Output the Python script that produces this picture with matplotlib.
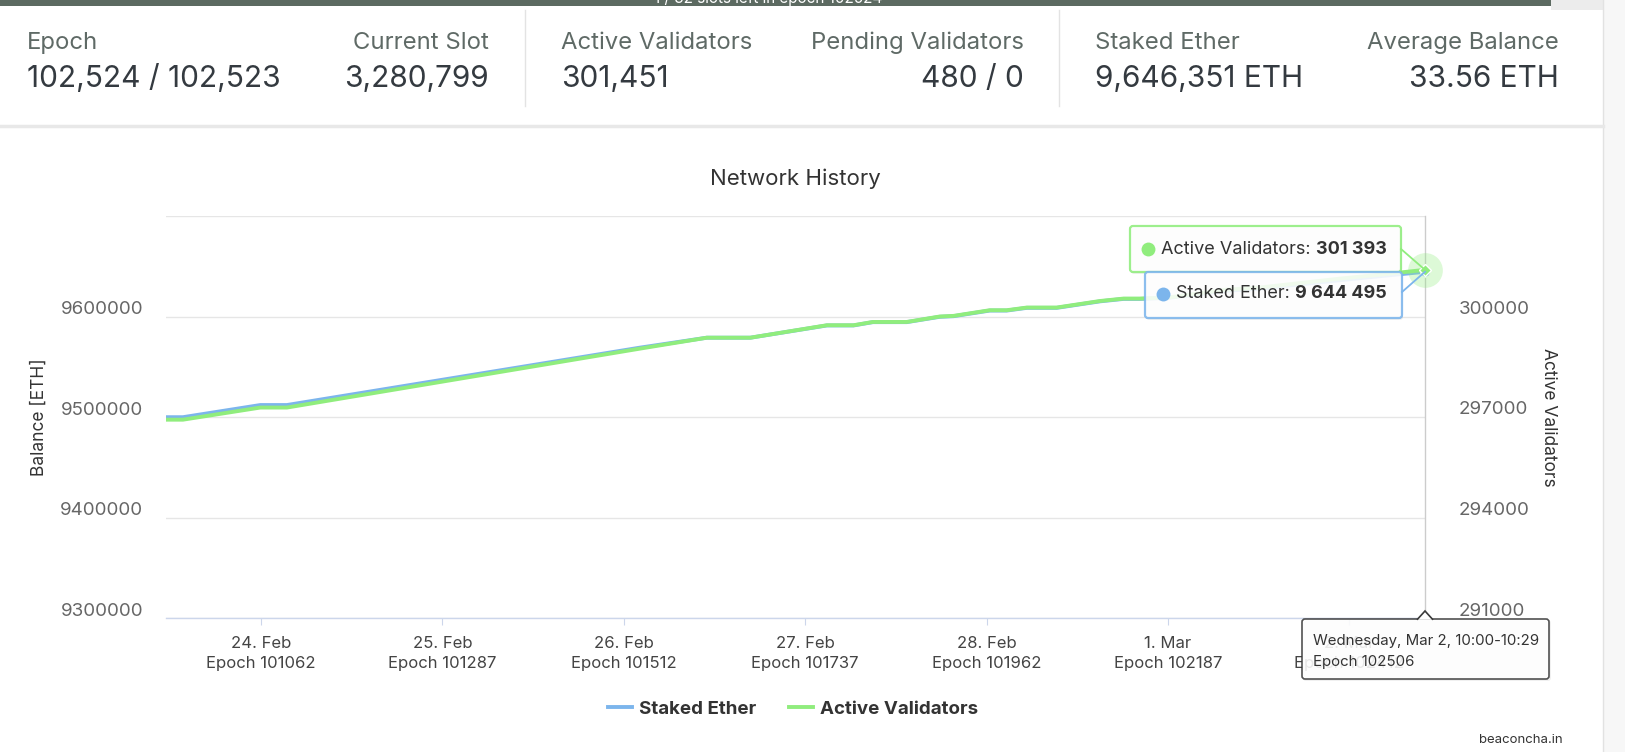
import numpy as np
import matplotlib
matplotlib.use("Agg")
from matplotlib import pyplot as plt
from matplotlib.patches import Rectangle, FancyBboxPatch, Polygon
from matplotlib.transforms import ScaledTranslation

plt.rcParams['font.family'] = ['Inter', 'DejaVu Sans']

# --- data ---
epochs = [100944, 100965, 101061, 101094, 101532, 101615, 101669, 101764, 101797,
          101821, 101863, 101904, 101921, 101966, 101987, 102012, 102049, 102103,
          102132, 102152, 102187, 102260, 102300, 102400, 102450, 102506]
staked_ether = [9499800, 9499800, 9511900, 9511900, 9569000, 9578900, 9578900, 9591100,
                9591100, 9594400, 9594400, 9599700, 9600300, 9605900, 9605900, 9608600,
                9608600, 9615100, 9617500, 9617500, 9618500, 9625700, 9627700, 9636100,
                9640100, 9644495]
active_validators = [296920, 296920, 297282, 297282, 299041, 299367, 299367, 299739,
                     299739, 299837, 299837, 300000, 300018, 300187, 300187, 300267,
                     300267, 300463, 300535, 300535, 300564, 300802, 300861, 301129,
                     301247, 301393]

tick_epochs = [101062, 101287, 101512, 101737, 101962, 102187, 102412]
tick_dates = ["24. Feb", "25. Feb", "26. Feb", "27. Feb", "28. Feb", "1. Mar", "2. Mar"]
left_ticks = [9300000, 9400000, 9500000, 9600000, 9700000]
right_ticks = [291000, 294000, 297000, 300000, 303000]

header_stats = [
    ("Epoch", "102,524 / 102,523", 27, "left"),
    ("Current Slot", "3,280,799", 489, "right"),
    ("Active Validators", "301,451", 561, "left"),
    ("Pending Validators", "480 / 0", 1024, "right"),
    ("Staked Ether", "9,646,351 ETH", 1095, "left"),
    ("Average Balance", "33.56 ETH", 1559, "right"),
]

BLUE = "#7cb5ec"
GREEN = "#90ed7d"
W, H = 1625, 752

fig = plt.figure(figsize=(W / 100, H / 100), dpi=100)
fig.patch.set_facecolor("white")

# background layer (page chrome)
bg = fig.add_axes([0, 0, 1, 1], zorder=-10)
bg.set_xlim(0, W)
bg.set_ylim(H, 0)
bg.axis("off")
bg.add_patch(Rectangle((0, 0), 1551, 6, color="#5c6a61", lw=0))
bg.add_patch(Rectangle((1551, 0), 52, 10, color="#ececec", lw=0))
bg.add_patch(Rectangle((1603, 0), 22, H, color="#f7f7f7", lw=0))
bg.plot([1603, 1603], [0, H], color="#e2e2e2", lw=1)
bg.plot([0, 1603], [126, 126], color="#e8e8e8", lw=2.5)
for xd in (525, 1059):
    bg.plot([xd, xd], [10, 106], color="#e3e3e3", lw=1)
bg.text(768, -2, "1 / 32 slots left in epoch 102524", color="white",
        ha="center", va="center", fontsize=11)
for label, value, xpos, align in header_stats:
    bg.text(xpos, 43, label, ha=align, va="center", fontsize=17.2,
            color="#5f6a66")
    bg.text(xpos, 79, value, ha=align, va="center", fontsize=21.5,
            color="#343a40")
bg.text(1563, 740, "beaconcha.in", ha="right", va="center", fontsize=9.5, color="#333333")

# main chart
left, right, top, bottom = 166, 1425, 216, 618
ax = fig.add_axes([left / W, 1 - bottom / H, (right - left) / W, (bottom - top) / H], zorder=1)
ax.patch.set_visible(False)
ax2 = ax.twinx()

l1, = ax.plot(epochs, staked_ether, color=BLUE, lw=2.8, label="Staked Ether",
              solid_joinstyle="round")
l2, = ax2.plot(epochs, active_validators, color=GREEN, lw=2.8, label="Active Validators",
               solid_joinstyle="round")

ax.set_xlim(epochs[0], epochs[-1])
ax.set_ylim(left_ticks[0], left_ticks[-1])
ax2.set_ylim(right_ticks[0], right_ticks[-1])

ax.set_yticks(left_ticks)
ax.set_yticklabels([str(v) for v in left_ticks[:-1]] + [""])
ax2.set_yticks(right_ticks)
ax2.set_yticklabels([str(v) for v in right_ticks[:-1]] + [""])
ax.set_xticks(tick_epochs)
ax.set_xticklabels([f"{d}\nEpoch {e}" for d, e in zip(tick_dates, tick_epochs)])

ax.grid(axis="y", color="#e6e6e6", lw=1)
ax.set_axisbelow(True)
for s in ("top", "right", "left"):
    ax.spines[s].set_visible(False)
    ax2.spines[s].set_visible(False)
ax2.spines["bottom"].set_visible(False)
ax.spines["bottom"].set_color("#ccd6eb")
ax.spines["bottom"].set_linewidth(1)

ax.tick_params(axis="y", length=0, pad=16.5, labelsize=13.5, labelcolor="#666666")
ax2.tick_params(axis="y", length=0, pad=24.5, labelsize=13.5, labelcolor="#666666")
ax.tick_params(axis="x", length=5, width=0.8, color="#ccd6eb", pad=8,
               labelsize=12, labelcolor="#444444")
for lab in ax.get_xticklabels():
    lab.set_linespacing(1.38)

up = ScaledTranslation(0, 0.09, fig.dpi_scale_trans)
for lab in ax.get_yticklabels() + ax2.get_yticklabels():
    lab.set_transform(lab.get_transform() + up)

ax.set_ylabel("Balance [ETH]", fontsize=12.5, color="#333333")
ax.yaxis.label.set_va("center")
ax.yaxis.set_label_coords((39 - left) / (right - left), 0.5)
ax2.set_ylabel("Active Validators", fontsize=12.5, color="#333333", rotation=270)
ax2.yaxis.label.set_va("center")
ax2.yaxis.set_label_coords((1548 - left) / (right - left), 0.5)

ax.set_title("Network History", fontsize=16, color="#333333", pad=22)

# crosshair and hover markers
ax.axvline(epochs[-1], color="#cccccc", lw=1, clip_on=False)
ax2.plot(epochs[-1], active_validators[-1], "o", ms=25, color=GREEN, alpha=0.3,
         mec="none", clip_on=False, zorder=5)
ax.plot(epochs[-1], staked_ether[-1], "o", ms=7, color=BLUE, mec="white", mew=1,
        clip_on=False, zorder=5)
ax2.plot(epochs[-1], active_validators[-1], "D", ms=6, color=GREEN, mec="white", mew=1,
         clip_on=False, zorder=6)

fig.legend(handles=[l1, l2], loc="center", bbox_to_anchor=(793 / W, 1 - 709 / H),
           ncol=2, frameon=False, handlelength=1.3, handletextpad=0.4,
           columnspacing=1.7, prop={"family": ["Inter", "DejaVu Sans"],
                                    "weight": "bold", "size": 13.5},
           labelcolor="#333333")

# tooltip overlay
ov = fig.add_axes([0, 0, 1, 1], zorder=10)
ov.set_xlim(0, W)
ov.set_ylim(H, 0)
ov.axis("off")
ov.patch.set_visible(False)

pb = ax.transData.transform((epochs[-1], staked_ether[-1]))
pg = ax2.transData.transform((epochs[-1], active_validators[-1]))
pbx, pby = pb[0], H - pb[1]
pgx, pgy = pg[0], H - pg[1]

renderer = fig.canvas.get_renderer()


def tooltip(x0, y0, w, h, edge, dot, label, value, ty):
    ov.add_patch(FancyBboxPatch((x0 + 1, y0 + 2), w, h, boxstyle="round,pad=0,rounding_size=3",
                                fc="black", ec="none", alpha=0.06))
    ov.add_patch(FancyBboxPatch((x0, y0), w, h, boxstyle="round,pad=0,rounding_size=3",
                                fc="white", ec=edge, lw=1.6, alpha=0.88))
    ov.plot(x0 + 18, ty, "o", ms=10, color=dot, mec="none")
    t = ov.text(x0 + 31, ty, label, ha="left", va="center", fontsize=13, color="#333333")
    bb = t.get_window_extent(renderer=renderer)
    ov.text(bb.x1 + 5, ty, value, ha="left", va="center", fontsize=13,
            color="#333333", fontweight="bold")


ov.plot([1401, pgx], [249, pgy], color=GREEN, lw=1.3)
tooltip(1130, 226, 271, 46, GREEN, GREEN, "Active Validators:", "301 393", 249)
ov.plot([1402, pbx], [292, pby], color=BLUE, lw=1.3)
tooltip(1145, 272, 257, 46, BLUE, BLUE, "Staked Ether:", "9 644 495", 294)

# x crosshair label
ov.add_patch(FancyBboxPatch((1303, 620), 248, 61, boxstyle="round,pad=0,rounding_size=3",
                            fc="black", ec="none", alpha=0.06))
ov.add_patch(FancyBboxPatch((1302, 619), 247, 60, boxstyle="round,pad=0,rounding_size=3",
                            fc="white", ec="#3a3a3a", lw=1.2, alpha=0.88))
ov.add_patch(Polygon([[pbx - 8, 619.8], [pbx, 611], [pbx + 8, 619.8]], closed=False,
                     fc="white", ec="#3a3a3a", lw=1.2))
ov.text(1313, 641, "Wednesday, Mar 2, 10:00-10:29", ha="left", va="center",
        fontsize=10.8, color="#333333")
ov.text(1313, 662, "Epoch 102506", ha="left", va="center", fontsize=10.8, color="#333333")

fig.savefig("out.png", dpi=100)
